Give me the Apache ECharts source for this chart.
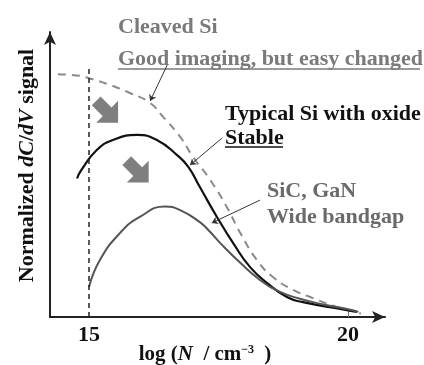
<!DOCTYPE html>
<html>
<head>
<meta charset="utf-8">
<script src="https://cdn.jsdelivr.net/npm/echarts@6/dist/echarts.min.js"></script>
<style>
  html, body { margin: 0; padding: 0; background: #fff; }
  #chart { width: 424px; height: 365px; }
</style>
</head>
<body>
<div id="chart"></div>
<script>
// [log N, normalized signal]
const cleavedSi = [
  [14.40, 0.852], [14.83, 0.846], [15.00, 0.838], [15.41, 0.814], [15.79, 0.786],
  [16.18, 0.751], [16.43, 0.702], [16.76, 0.632], [17.01, 0.561], [17.34, 0.481],
  [17.66, 0.386], [17.92, 0.295], [18.24, 0.20], [18.55, 0.14], [18.94, 0.095],
  [19.27, 0.07], [19.71, 0.04], [20.25, 0.012]
];
const typicalSi = [
  [14.77, 0.486], [14.85, 0.515], [15.15, 0.586], [15.46, 0.621], [15.93, 0.639],
  [16.31, 0.621], [16.70, 0.568], [16.92, 0.526], [17.14, 0.456], [17.47, 0.351],
  [17.78, 0.26], [18.11, 0.175], [18.44, 0.119], [18.82, 0.07], [19.13, 0.052],
  [19.90, 0.027], [20.17, 0.018]
];
const wideGap = [
  [15.00, 0.105], [15.21, 0.20], [15.60, 0.295], [15.98, 0.351], [16.47, 0.388],
  [16.76, 0.375], [17.14, 0.333], [17.34, 0.298], [17.53, 0.26], [17.92, 0.19],
  [18.30, 0.13], [18.69, 0.088], [19.07, 0.064], [19.50, 0.045], [19.98, 0.028],
  [20.20, 0.018]
];
const xTickLabels = [15, 20];
const startLine = 15;
const startLineTop = 0.877;
// leader lines from the labels to the curves: [from, to]
const leaders = [
  [[16.51, 0.884], [16.18, 0.758]],
  [[17.57, 0.628], [16.95, 0.533]],
  [[18.30, 0.41], [17.37, 0.33]]
];
// the two fat "decrease" arrows
const dropArrows = [[15.35, 0.72], [15.94, 0.51]];

const serif = '"Liberation Serif", "DejaVu Serif", serif';
const chart = echarts.init(document.getElementById('chart'));

const arrowPath = 'path://M3,0 L7,0 L7,5 L10,5 L5,10 L0,5 L3,5 Z';

chart.setOption({
  animation: false,
  grid: { left: 50, right: 39, top: 32, bottom: 48, outerBoundsMode: 'none', containLabel: false },
  xAxis: {
    type: 'value',
    min: 14.247,
    max: 20.714,
    splitLine: { show: false },
    axisLine: { lineStyle: { color: '#222', width: 2 }, symbol: ['none', 'arrow'], symbolSize: [9, 13] },
    axisTick: { show: true, inside: true, length: 6, customValues: [20], lineStyle: { color: '#777' } },
    axisLabel: {
      customValues: xTickLabels,
      fontFamily: serif, fontWeight: 'bold', fontSize: 22, color: '#111', margin: 7
    },
    name: '{n|log (}{i|N}{n|  / cm}{s|−3}{n| )}',
    nameLocation: 'middle',
    nameGap: 27,
    nameMoveOverlap: false,
    nameTextStyle: {
      padding: [0, 25, 0, 0],
      rich: {
        n: { fontFamily: serif, fontWeight: 'bold', fontSize: 21, color: '#111' },
        i: { fontFamily: serif, fontWeight: 'bold', fontStyle: 'italic', fontSize: 21, color: '#111' },
        s: { fontFamily: serif, fontWeight: 'bold', fontSize: 12, color: '#111', verticalAlign: 'top', padding: [0, 5, 10, 0] }
      }
    }
  },
  yAxis: {
    type: 'value',
    min: 0,
    max: 1,
    splitLine: { show: false },
    axisTick: { show: false },
    axisLabel: { show: false },
    axisLine: { lineStyle: { color: '#222', width: 2 }, symbol: ['none', 'arrow'], symbolSize: [9, 13] },
    name: '{n|Normalized }{i|dC}{n|/}{i|dV}{n| signal}',
    nameLocation: 'middle',
    nameRotate: 90,
    nameGap: 12,
    nameMoveOverlap: false,
    nameTextStyle: {
      padding: [0, 0, 0, 18],
      rich: {
        n: { fontFamily: serif, fontWeight: 'bold', fontSize: 22, color: '#111' },
        i: { fontFamily: serif, fontWeight: 'bold', fontStyle: 'italic', fontSize: 22, color: '#111' }
      }
    }
  },
  series: [
    {
      name: 'Cleaved Si',
      type: 'line',
      data: cleavedSi,
      smooth: 0.5,
      showSymbol: false,
      lineStyle: { color: '#8a8a8a', width: 2, type: [8, 6] },
      markLine: {
        silent: true,
        symbol: ['none', 'none'],
        label: { show: false },
        lineStyle: { color: '#222', width: 1.5, type: [5, 4] },
        data: [[{ coord: [startLine, 0] }, { coord: [startLine, startLineTop] }]]
      },
      markPoint: {
        silent: true,
        symbol: arrowPath,
        symbolSize: 31,
        symbolRotate: 45,
        itemStyle: { color: '#7f7f7f' },
        label: { show: false },
        data: dropArrows.map(c => ({ coord: c }))
      }
    },
    {
      name: 'Typical Si with oxide',
      type: 'line',
      data: typicalSi,
      smooth: 0.5,
      showSymbol: false,
      lineStyle: { color: '#111', width: 2.2 },
      markLine: {
        silent: true,
        symbol: ['none', 'arrow'],
        symbolSize: 6,
        label: { show: false },
        lineStyle: { color: '#333', width: 1, type: 'solid' },
        data: leaders.map(l => [{ coord: l[0] }, { coord: l[1] }])
      }
    },
    {
      name: 'SiC, GaN',
      type: 'line',
      data: wideGap,
      smooth: 0.5,
      showSymbol: false,
      lineStyle: { color: '#555', width: 2 }
    }
  ],
  graphic: [
    { type: 'text', left: 118, top: 16, style: { text: 'Cleaved Si', font: 'bold 22px ' + serif, fill: '#7a7a7a' } },
    { type: 'text', left: 118, top: 48, style: { text: 'Good imaging, but easy changed', font: 'bold 22px ' + serif, fill: '#7a7a7a' } },
    { type: 'line', shape: { x1: 118, y1: 69, x2: 420, y2: 69 }, style: { stroke: '#7a7a7a', lineWidth: 1.5 } },
    { type: 'text', left: 225, top: 103, style: { text: 'Typical Si with oxide', font: 'bold 22px ' + serif, fill: '#111' } },
    { type: 'text', left: 225, top: 127, style: { text: 'Stable', font: 'bold 22px ' + serif, fill: '#111' } },
    { type: 'line', shape: { x1: 225, y1: 147, x2: 283, y2: 147 }, style: { stroke: '#111', lineWidth: 1.5 } },
    { type: 'text', left: 267, top: 180, style: { text: 'SiC, GaN', font: 'bold 22px ' + serif, fill: '#6a6a6a' } },
    { type: 'text', left: 267, top: 206, style: { text: 'Wide bandgap', font: 'bold 22px ' + serif, fill: '#6a6a6a' } }
  ]
});
</script>
</body>
</html>
